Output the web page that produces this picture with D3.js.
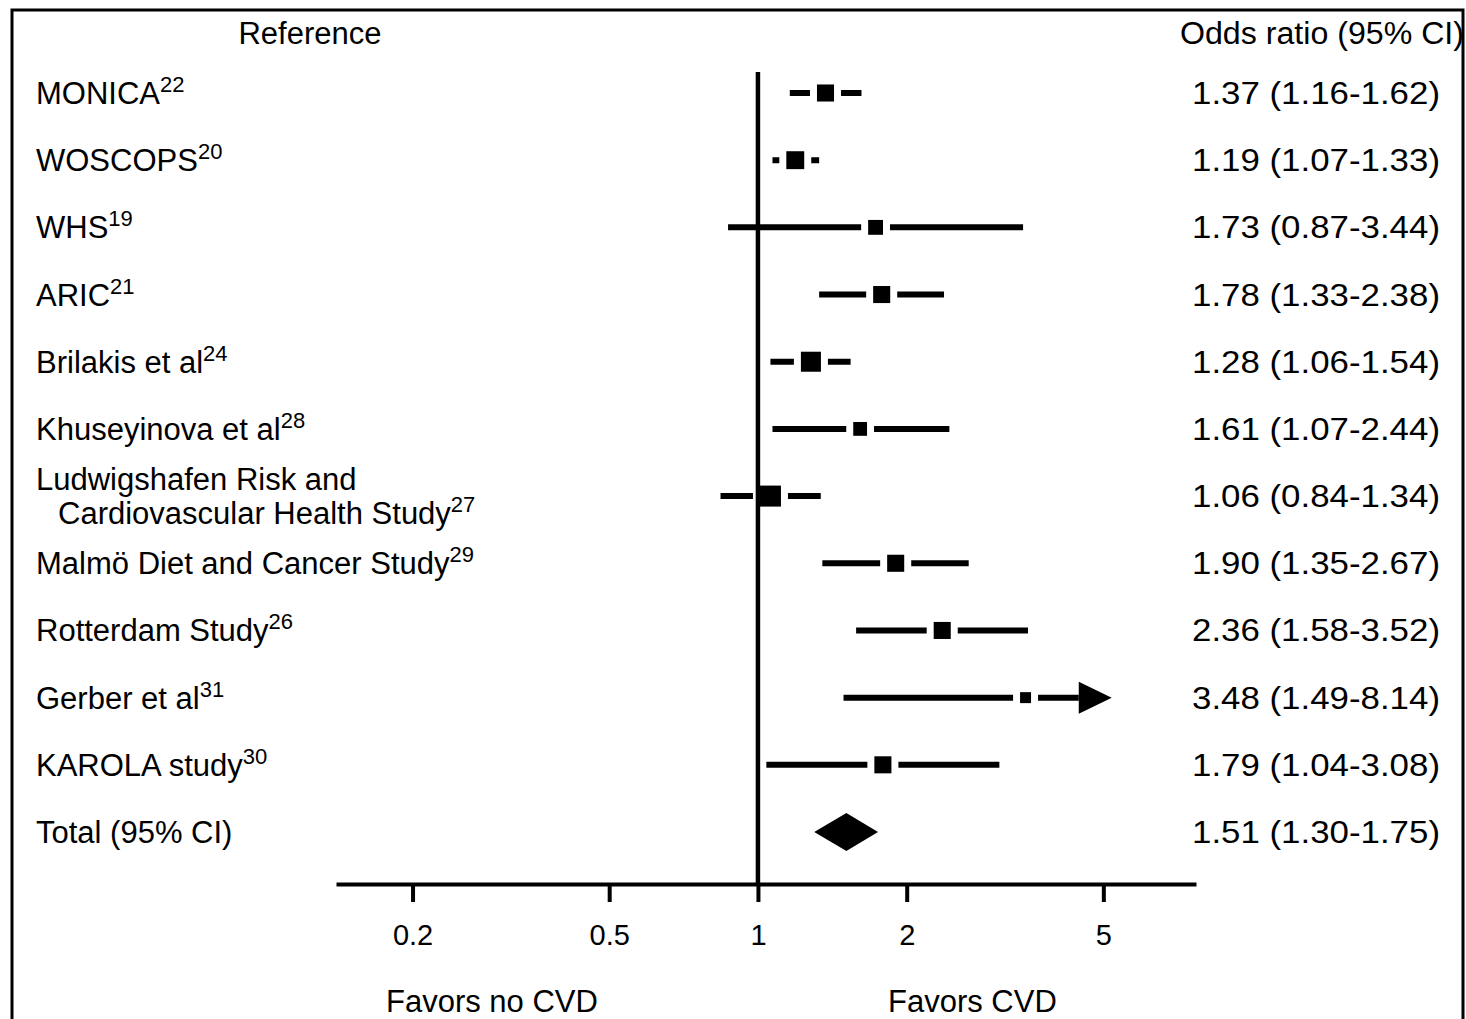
<!DOCTYPE html>
<html>
<head>
<meta charset="utf-8">
<script src="https://cdn.jsdelivr.net/npm/d3@7"></script>
<style>
  body { margin: 0; background: #fff; }
  svg { display: block; font-family: "Liberation Sans", Arial, sans-serif; }
</style>
</head>
<body>
<div id="chart"></div>
<script>
var w = 1466,
    h = 1019;

// study labels, superscript refs, odds ratios and CIs
var studies = ["MONICA", "WOSCOPS", "WHS", "ARIC", "Brilakis et al", "Khuseyinova et al",
    "Ludwigshafen Risk and|Cardiovascular Health Study", "Malmö Diet and Cancer Study",
    "Rotterdam Study", "Gerber et al", "KAROLA study", "Total (95% CI)"];
var refs = ["22", "20", "19", "21", "24", "28", "27", "29", "26", "31", "30", ""];
var or = [1.37, 1.19, 1.73, 1.78, 1.28, 1.61, 1.06, 1.90, 2.36, 3.48, 1.79, 1.51];
var lower = [1.16, 1.07, 0.87, 1.33, 1.06, 1.07, 0.84, 1.35, 1.58, 1.49, 1.04, 1.30];
var upper = [1.62, 1.33, 3.44, 2.38, 1.54, 2.44, 1.34, 2.67, 3.52, 8.14, 3.08, 1.75];
// relative study weights
var weights = [2.9, 3.2, 2.2, 2.9, 4.0, 1.9, 4.4, 2.9, 2.9, 1.2, 2.9];
var ticks = [0.2, 0.5, 1, 2, 5];

var svg = d3.select("#chart").append("svg")
    .attr("width", w)
    .attr("height", h);

svg.append("rect")
    .attr("width", w).attr("height", h)
    .attr("fill", "#fff");

var x = d3.scaleLog()
    .domain([0.14, 7.7])
    .range([336, 1196]);

var y = d3.scalePoint()
    .domain(d3.range(studies.length))
    .range([93, 832]);

var box = d3.scaleSqrt()
    .domain([0, 4.4])
    .range([0, 21]);

var arrowMax = 5.2;

// frame
svg.append("rect")
    .attr("x", 12).attr("y", 10)
    .attr("width", 1451).attr("height", 1030)
    .attr("fill", "none")
    .attr("stroke", "#000")
    .attr("stroke-width", 3);

// headers
svg.append("text")
    .attr("x", 310).attr("y", 44)
    .attr("text-anchor", "middle")
    .style("font-size", "31px")
    .text("Reference");

svg.append("text")
    .attr("x", 1180).attr("y", 44)
    .attr("textLength", 284)
    .attr("lengthAdjust", "spacingAndGlyphs")
    .style("font-size", "31px")
    .text("Odds ratio (95% CI)");

// study labels
studies.forEach(function (name, i) {
    var lines = name.split("|");
    var base = y(i) + 11 - (lines.length - 1) * 17;
    lines.forEach(function (line, j) {
        var t = svg.append("text")
            .attr("x", j === 0 ? 36 : 58)
            .attr("y", base + j * 34)
            .style("font-size", "31px")
            .text(line);
        if (j === lines.length - 1 && refs[i]) {
            t.append("tspan")
                .attr("dy", -12)
                .style("font-size", "22px")
                .text(refs[i]);
        }
    });

    svg.append("text")
        .attr("x", 1192)
        .attr("y", y(i) + 11)
        .attr("textLength", 248)
        .attr("lengthAdjust", "spacingAndGlyphs")
        .style("font-size", "31px")
        .text(or[i].toFixed(2) + " (" + lower[i].toFixed(2) + "-" + upper[i].toFixed(2) + ")");
});

var idx = d3.range(studies.length - 1);

// confidence interval lines
svg.selectAll(".ci")
    .data(idx)
    .enter().append("line")
    .attr("class", "ci")
    .attr("x1", function (i) { return x(lower[i]); })
    .attr("x2", function (i) { return upper[i] > arrowMax ? x(arrowMax) - 33 : x(upper[i]); })
    .attr("y1", function (i) { return y(i); })
    .attr("y2", function (i) { return y(i); })
    .attr("stroke", "#000")
    .attr("stroke-width", 6);

// arrow heads for CIs beyond the axis
svg.selectAll(".arrow")
    .data(idx.filter(function (i) { return upper[i] > arrowMax; }))
    .enter().append("path")
    .attr("class", "arrow")
    .attr("d", function (i) {
        var tip = x(arrowMax), yy = y(i);
        return "M" + tip + "," + yy + "L" + (tip - 33) + "," + (yy - 16) + "L" + (tip - 33) + "," + (yy + 16) + "Z";
    })
    .attr("fill", "#000");

// white gaps around the boxes
svg.selectAll(".gap")
    .data(idx)
    .enter().append("rect")
    .attr("class", "gap")
    .attr("x", function (i) { return x(or[i]) - box(weights[i]) / 2 - 7; })
    .attr("y", function (i) { return y(i) - 5; })
    .attr("width", function (i) { return box(weights[i]) + 14; })
    .attr("height", 10)
    .attr("fill", "#fff");

// line of no effect
svg.append("line")
    .attr("x1", x(1)).attr("x2", x(1))
    .attr("y1", 72).attr("y2", 884)
    .attr("stroke", "#000")
    .attr("stroke-width", 4.5);

// boxes
svg.selectAll(".box")
    .data(idx)
    .enter().append("rect")
    .attr("class", "box")
    .attr("x", function (i) { return x(or[i]) - box(weights[i]) / 2; })
    .attr("y", function (i) { return y(i) - box(weights[i]) / 2; })
    .attr("width", function (i) { return box(weights[i]); })
    .attr("height", function (i) { return box(weights[i]); })
    .attr("fill", "#000");

// pooled diamond
var t = studies.length - 1;
svg.append("path")
    .attr("d", "M" + x(lower[t]) + "," + y(t) +
        "L" + x(or[t]) + "," + (y(t) - 19) +
        "L" + x(upper[t]) + "," + y(t) +
        "L" + x(or[t]) + "," + (y(t) + 19) + "Z")
    .attr("fill", "#000");

// x axis
var axis = svg.append("g")
    .attr("transform", "translate(0,884)")
    .call(d3.axisBottom(x)
        .tickValues(ticks)
        .tickFormat(d3.format("~g"))
        .tickSizeInner(18)
        .tickSizeOuter(0)
        .tickPadding(22));

axis.select(".domain")
    .attr("stroke", "#000")
    .attr("stroke-width", 4);
axis.selectAll(".tick line")
    .attr("stroke", "#000")
    .attr("stroke-width", 4);
axis.selectAll(".tick text")
    .attr("fill", "#000")
    .style("font-size", "29px")
    .style("font-family", "'Liberation Sans', Arial, sans-serif");

svg.append("text")
    .attr("x", 386).attr("y", 1012)
    .style("font-size", "31px")
    .text("Favors no CVD");

svg.append("text")
    .attr("x", 888).attr("y", 1012)
    .style("font-size", "31px")
    .text("Favors CVD");
</script>
</body>
</html>
